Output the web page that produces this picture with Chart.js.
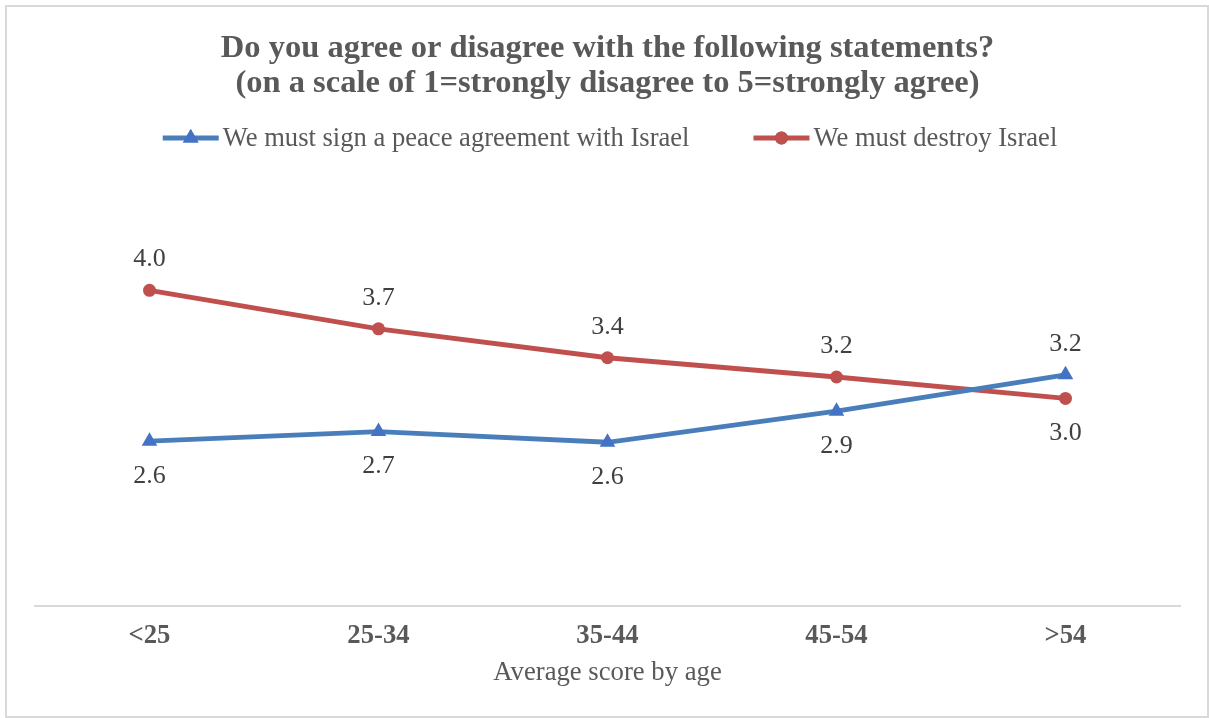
<!DOCTYPE html>
<html>
<head>
<meta charset="utf-8">
<title>Average score by age</title>
<script src="https://cdn.jsdelivr.net/npm/chart.js@4.4.1/dist/chart.umd.min.js"></script>
<style>
    html, body { margin: 0; padding: 0; background: #fff; }
    #wrap { position: relative; width: 1209px; height: 718px; }
    #frame {
        position: absolute; left: 5px; top: 5px; right: 0; bottom: 0;
        border: 2px solid #d9d9d9; box-sizing: border-box; pointer-events: none;
    }
    canvas { position: absolute; left: 0; top: 0; }
</style>
</head>
<body>
<div id="wrap">
    <canvas id="ageChart" width="1209" height="718"></canvas>
    <div id="frame"></div>
</div>
<script>
// Chart data
const ageGroups = ['<25', '25-34', '35-44', '45-54', '>54'];
const seriesNames = ['We must sign a peace agreement with Israel', 'We must destroy Israel'];
const peaceScores = [2.62, 2.71, 2.61, 2.90, 3.24];
const destroyScores = [4.03, 3.67, 3.40, 3.22, 3.02];
const titleLines = ['Do you agree or disagree with the following statements?',
                    '(on a scale of 1=strongly disagree to 5=strongly agree)'];
const axisTitle = 'Average score by age';

const SERIF = "'Liberation Serif', 'Times New Roman', serif";
const GREY_TEXT = '#595959';
const BLUE = '#4a7ebb';
const BLUE_MARK = '#4472c4';
const RED = '#c0504d';

// where each value label sits relative to its point
const labelSide = [
    ['below', 'below', 'below', 'below', 'above'],
    ['above', 'above', 'above', 'above', 'below']
];

// value labels next to each point
const valueLabels = {
    id: 'valueLabels',
    afterDatasetsDraw(chart) {
        const ctx = chart.ctx;
        ctx.save();
        ctx.font = '26px ' + SERIF;
        ctx.fillStyle = '#404040';
        ctx.textAlign = 'center';
        ctx.textBaseline = 'middle';
        chart.data.datasets.forEach((ds, i) => {
            const meta = chart.getDatasetMeta(i);
            meta.data.forEach((pt, j) => {
                const dy = labelSide[i][j] === 'above' ? -31 : 35;
                ctx.fillText(ds.data[j].toFixed(1), pt.x, pt.y + dy);
            });
        });
        ctx.restore();
    }
};

// legend drawn as line + marker, like the office chart
const lineLegend = {
    id: 'lineLegend',
    afterDraw(chart) {
        const ctx = chart.ctx;
        const y = 138;
        const boxW = 56, textGap = 4, itemGap = 64;
        ctx.save();
        ctx.font = '26.6px ' + SERIF;
        const widths = chart.data.datasets.map(ds => ctx.measureText(ds.label).width);
        let total = widths.reduce((a, b) => a + b, 0) + boxW * 2 + textGap * 2 + itemGap;
        let x = 610 - total / 2;
        chart.data.datasets.forEach((ds, i) => {
            ctx.strokeStyle = ds.borderColor;
            ctx.lineWidth = 4.8;
            ctx.beginPath();
            ctx.moveTo(x, y);
            ctx.lineTo(x + boxW, y);
            ctx.stroke();
            Chart.helpers.drawPoint(ctx, {
                pointStyle: ds.pointStyle,
                radius: ds.pointRadius,
                rotation: 0,
                borderWidth: 0
            }, x + boxW / 2, y);
            ctx.fillStyle = ds.pointBackgroundColor;
            ctx.fill();
            ctx.fillStyle = GREY_TEXT;
            ctx.textBaseline = 'middle';
            ctx.textAlign = 'left';
            ctx.fillText(ds.label, x + boxW + textGap, y + 1);
            x += boxW + textGap + widths[i] + itemGap;
        });
        ctx.restore();
    }
};

const ctx = document.getElementById('ageChart').getContext('2d');
new Chart(ctx, {
    type: 'line',
    data: {
        labels: ageGroups,
        datasets: [{
            label: seriesNames[0],
            data: peaceScores,
            borderColor: BLUE,
            backgroundColor: BLUE_MARK,
            borderWidth: 4.8,
            pointStyle: 'triangle',
            pointRadius: 9,
            pointBackgroundColor: BLUE_MARK,
            pointBorderColor: BLUE_MARK,
            pointBorderWidth: 0,
            tension: 0,
            clip: false
        }, {
            label: seriesNames[1],
            data: destroyScores,
            borderColor: RED,
            backgroundColor: RED,
            borderWidth: 4.8,
            pointStyle: 'circle',
            pointRadius: 6.5,
            pointBackgroundColor: RED,
            pointBorderColor: RED,
            pointBorderWidth: 0,
            tension: 0,
            clip: false
        }]
    },
    options: {
        responsive: false,
        animation: false,
        layout: {
            padding: { left: 35, right: 29, top: 0, bottom: 29 }
        },
        plugins: {
            legend: { display: false },
            tooltip: { enabled: false },
            title: {
                display: true,
                text: titleLines,
                color: GREY_TEXT,
                font: { family: SERIF, size: 32.5, weight: 'bold', lineHeight: 1.05 },
                padding: { top: 32, bottom: 81 }
            }
        },
        scales: {
            x: {
                offset: true,
                grid: { display: false, drawTicks: false },
                border: { display: true, color: '#d9d9d9', width: 2 },
                ticks: {
                    color: GREY_TEXT,
                    padding: 14,
                    font: { family: SERIF, size: 26.7, weight: 'bold' }
                },
                title: {
                    display: true,
                    text: axisTitle,
                    color: GREY_TEXT,
                    font: { family: SERIF, size: 26.7 },
                    padding: { top: -9, bottom: 0 }
                }
            },
            y: {
                display: false,
                min: 1.08,
                max: 5.05
            }
        }
    },
    plugins: [valueLabels, lineLegend]
});
</script>
</body>
</html>
